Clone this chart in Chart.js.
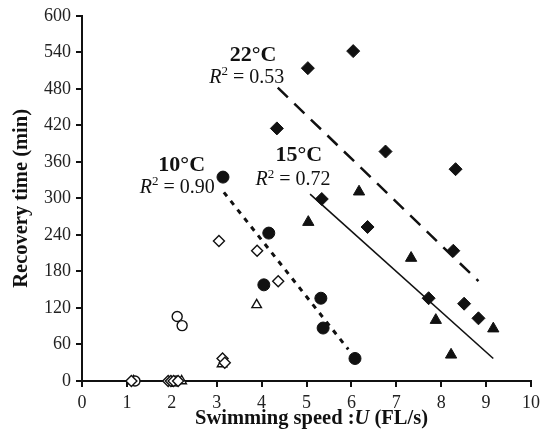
<!DOCTYPE html>
<html>
<head>
<meta charset="utf-8">
<script src="https://cdn.jsdelivr.net/npm/chart.js@4"></script>
<style>
  html, body { margin: 0; padding: 0; background: #fff; }
  #wrap { width: 546px; height: 434px; }
</style>
</head>
<body>
<div id="wrap"><canvas id="chart" width="546" height="434"></canvas></div>
<script>
// 측정값 (x: swimming speed FL/s, y: recovery time min)
const circle10 = [[3.14, 335], [4.16, 243], [4.05, 158], [5.32, 136], [5.37, 87], [6.08, 37]];
const triangle15 = [[6.17, 311], [5.04, 261], [7.33, 202], [7.88, 100], [9.16, 86], [8.22, 43]];
const diamond22 = [[6.04, 542], [5.03, 514], [4.34, 415], [6.76, 377], [8.32, 348], [5.34, 299],
  [6.36, 253], [8.27, 214], [7.72, 136], [8.51, 127], [8.83, 103]];
const openCircle = [[2.12, 106], [2.23, 91], [1.18, 0], [2.1, 0]];
const openTriangle = [[3.89, 125], [3.12, 28], [1.15, 0], [2.22, 0]];
const openDiamond = [[3.05, 230], [3.9, 214], [4.37, 164], [3.13, 37], [3.18, 30],
  [1.1, 0], [1.92, 0], [1.98, 0], [2.04, 0], [2.14, 0]];

// 회귀선 양 끝점
const fit10 = [[3.16, 310], [5.93, 52]];
const fit15 = [[5.08, 307], [9.16, 37]];
const fit22 = [[4.36, 482], [8.83, 164]];

const xTicks = [0, 1, 2, 3, 4, 5, 6, 7, 8, 9, 10];
const yTicks = [0, 60, 120, 180, 240, 300, 360, 420, 480, 540, 600];

// 그래프 안 주석
const bold = 'bold 22px "Liberation Serif"';
const rIt = 'italic 20px "Liberation Serif"';
const sup = '13px "Liberation Serif"';
const reg = '20px "Liberation Serif"';
const notes = [
  { x: 3.81, y: 535, parts: [['22°C', bold, 0]] },
  { x: 3.67, y: 498, parts: [['R', rIt, 0], ['2', sup, -6], [' = 0.53', reg, 0]] },
  { x: 2.22, y: 355, parts: [['10°C', bold, 0]] },
  { x: 2.12, y: 318, parts: [['R', rIt, 0], ['2', sup, -6], [' = 0.90', reg, 0]] },
  { x: 4.83, y: 371, parts: [['15°C', bold, 0]] },
  { x: 4.7, y: 330, parts: [['R', rIt, 0], ['2', sup, -6], [' = 0.72', reg, 0]] },
];

const toPts = arr => arr.map(p => ({ x: p[0], y: p[1] }));

function drawParts(ctx, parts, cx, cy) {
  let total = 0;
  parts.forEach(p => { ctx.font = p[1]; total += ctx.measureText(p[0]).width; });
  let x = cx - total / 2;
  parts.forEach(p => {
    ctx.font = p[1];
    ctx.fillText(p[0], x, cy + p[2]);
    x += ctx.measureText(p[0]).width;
  });
}

const textPlugin = {
  id: 'richText',
  afterDatasetsDraw(chart) {
    const ctx = chart.ctx;
    const xs = chart.scales.x, ys = chart.scales.y;
    ctx.save();
    ctx.fillStyle = '#111';
    ctx.textBaseline = 'middle';
    ctx.textAlign = 'left';
    notes.forEach(n => drawParts(ctx, n.parts, xs.getPixelForValue(n.x), ys.getPixelForValue(n.y)));

    // 축 제목
    drawParts(ctx, [['Swimming speed :', 'bold 20.5px "Liberation Serif"', 0],
      ['U', 'bold italic 20.5px "Liberation Serif"', 0],
      [' (FL/s)', 'bold 20.5px "Liberation Serif"', 0]], (xs.left + xs.right) / 2 + 5, 419);
    ctx.translate(22, (ys.top + ys.bottom) / 2);
    ctx.rotate(-Math.PI / 2);
    drawParts(ctx, [['Recovery time (min)', 'bold 20.5px "Liberation Serif"', 0]], 0, 0);
    ctx.restore();
  }
};

function scatterSet(data, style, radius, filled) {
  return {
    type: 'scatter',
    data: toPts(data),
    pointStyle: style,
    pointRadius: radius,
    pointHoverRadius: radius,
    backgroundColor: filled ? '#111' : '#fff',
    borderColor: '#111',
    borderWidth: filled ? 1 : 1.4,
    clip: false
  };
}

function lineSet(data, dash, width) {
  return {
    type: 'line',
    data: toPts(data),
    borderColor: '#111',
    borderWidth: width,
    borderDash: dash,
    pointRadius: 0,
    fill: false,
    showLine: true
  };
}

const serif = { family: '"Liberation Serif"', size: 18 };

new Chart(document.getElementById('chart').getContext('2d'), {
  type: 'scatter',
  data: {
    datasets: [
      lineSet(fit22, [14, 9], 2.5),
      lineSet(fit15, [], 1.6),
      lineSet(fit10, [5, 6], 3),
      scatterSet(openDiamond, 'rectRot', 5.5, false),
      scatterSet(openCircle, 'circle', 5, false),
      scatterSet(openTriangle, 'triangle', 5.5, false),
      scatterSet(diamond22, 'rectRot', 6.5, true),
      scatterSet(triangle15, 'triangle', 6.5, true),
      scatterSet(circle10, 'circle', 6, true)
    ]
  },
  options: {
    responsive: false,
    animation: false,
    events: [],
    layout: { padding: { top: 15, right: 15, left: 0, bottom: 0 } },
    plugins: { legend: { display: false }, tooltip: { enabled: false } },
    scales: {
      x: {
        type: 'linear',
        min: 0, max: 10,
        afterBuildTicks: s => { s.ticks = xTicks.map(v => ({ value: v })); },
        afterFit: s => { s.height = 53; },
        ticks: { color: '#222', font: serif, padding: 5, maxRotation: 0 },
        grid: { drawOnChartArea: false, drawTicks: true, tickLength: 6, color: '#111', lineWidth: 2 },
        border: { display: true, color: '#111', width: 2 }
      },
      y: {
        type: 'linear',
        min: 0, max: 600,
        afterBuildTicks: s => { s.ticks = yTicks.map(v => ({ value: v })); },
        afterFit: s => { s.width = 82; },
        ticks: { color: '#222', font: serif, padding: 5 },
        grid: { drawOnChartArea: false, drawTicks: true, tickLength: 6, color: '#111', lineWidth: 2 },
        border: { display: true, color: '#111', width: 2 }
      }
    }
  },
  plugins: [textPlugin]
});
</script>
</body>
</html>
